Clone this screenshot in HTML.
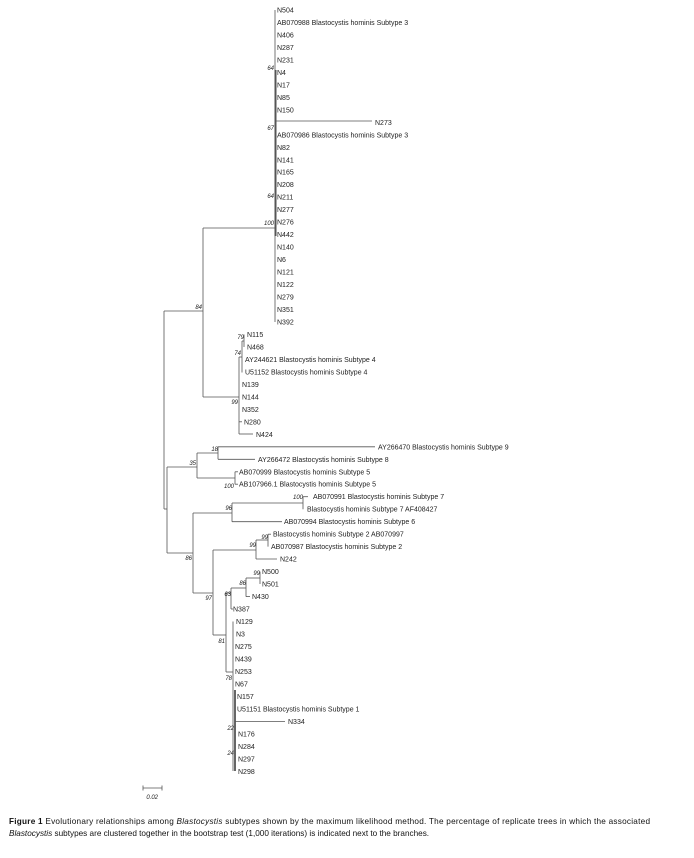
<!DOCTYPE html>
<html><head><meta charset="utf-8"><style>
html,body{margin:0;padding:0;background:#fff;}
svg{display:block;}
text{font-family:"Liberation Sans",sans-serif;fill:#222;}
.t{font-size:7px;}
.b{font-size:6px;font-style:italic;fill:#444;}
.c{font-size:8.2px;fill:#111;}
</style></head><body>
<svg width="694" height="858" viewBox="0 0 694 858" xmlns="http://www.w3.org/2000/svg">
<g stroke="#555" stroke-width="0.8" fill="none">
<!-- root -->
<line x1="164" y1="311" x2="164" y2="509"/>
<line x1="164" y1="311" x2="203" y2="311"/>
<line x1="164" y1="509" x2="167" y2="509"/>
<!-- clade 84 -->
<line x1="203" y1="228" x2="203" y2="397"/>
<line x1="203" y1="228" x2="275" y2="228"/>
<line x1="275" y1="10" x2="275" y2="322"/>
<line x1="275.5" y1="70" x2="275.5" y2="236" stroke-width="2"/>
<line x1="275" y1="121" x2="372" y2="121"/>
<line x1="203" y1="397" x2="239" y2="397"/>
<line x1="239" y1="357" x2="239" y2="434"/>
<line x1="239" y1="357" x2="242" y2="357"/>
<line x1="242" y1="341" x2="242" y2="372.5"/>
<line x1="242" y1="341" x2="244" y2="341"/>
<line x1="244" y1="334.5" x2="244" y2="347"/>
<line x1="239" y1="421.8" x2="242" y2="421.8"/>
<line x1="239" y1="434" x2="253" y2="434"/>
<!-- lower -->
<line x1="167" y1="467" x2="167" y2="553"/>
<line x1="167" y1="467" x2="197" y2="467"/>
<line x1="197" y1="453" x2="197" y2="478"/>
<line x1="197" y1="453" x2="218" y2="453"/>
<line x1="218" y1="446.8" x2="218" y2="459.3"/>
<line x1="218" y1="446.8" x2="375" y2="446.8"/>
<line x1="218" y1="459.3" x2="255" y2="459.3"/>
<line x1="197" y1="478" x2="235" y2="478"/>
<line x1="235" y1="471.8" x2="235" y2="484.2"/>
<line x1="235" y1="471.8" x2="238" y2="471.8"/>
<line x1="235" y1="484.2" x2="238" y2="484.2"/>
<line x1="167" y1="553" x2="193" y2="553"/>
<line x1="193" y1="513" x2="193" y2="593"/>
<line x1="193" y1="513" x2="232" y2="513"/>
<line x1="232" y1="503" x2="232" y2="521.7"/>
<line x1="232" y1="503" x2="303" y2="503"/>
<line x1="303" y1="496.7" x2="303" y2="509.2"/>
<line x1="303" y1="496.7" x2="308" y2="496.7"/>
<line x1="232" y1="521.7" x2="282" y2="521.7"/>
<line x1="193" y1="593" x2="213" y2="593"/>
<line x1="213" y1="550" x2="213" y2="635"/>
<line x1="213" y1="550" x2="256" y2="550"/>
<line x1="256" y1="540" x2="256" y2="559"/>
<line x1="256" y1="540" x2="268" y2="540"/>
<line x1="268" y1="534.2" x2="268" y2="546.6"/>
<line x1="268" y1="534.2" x2="271" y2="534.2"/>
<line x1="256" y1="559" x2="277" y2="559"/>
<line x1="213" y1="635" x2="226" y2="635"/>
<line x1="226" y1="593" x2="226" y2="672"/>
<line x1="226" y1="593" x2="231" y2="593"/>
<line x1="231" y1="588" x2="231" y2="609"/>
<line x1="231" y1="588" x2="246" y2="588"/>
<line x1="246" y1="578" x2="246" y2="596.6"/>
<line x1="246" y1="578" x2="260" y2="578"/>
<line x1="260" y1="571.6" x2="260" y2="584"/>
<line x1="246" y1="596.6" x2="250" y2="596.6"/>
<line x1="231" y1="609" x2="233" y2="609"/>
<line x1="226" y1="672" x2="233" y2="672"/>
<line x1="233" y1="621.5" x2="233" y2="771"/>
<line x1="235" y1="690" x2="235" y2="771" stroke-width="1.8"/>
<line x1="235" y1="721.4" x2="285" y2="721.4"/>
<!-- scale -->
<line x1="143" y1="788" x2="162" y2="788"/>
<line x1="143" y1="785.5" x2="143" y2="790.5"/>
<line x1="162" y1="785.5" x2="162" y2="790.5"/>
</g>
<g class="t">
<text x="277" y="12.5">N504</text>
<text x="277" y="25">AB070988 Blastocystis hominis Subtype 3</text>
<text x="277" y="37.5">N406</text>
<text x="277" y="49.9">N287</text>
<text x="277" y="62.4">N231</text>
<text x="277" y="74.9">N4</text>
<text x="277" y="87.4">N17</text>
<text x="277" y="99.9">N85</text>
<text x="277" y="112.3">N150</text>
<text x="375" y="124.8">N273</text>
<text x="277" y="137.3">AB070986 Blastocystis hominis Subtype 3</text>
<text x="277" y="149.8">N82</text>
<text x="277" y="162.3">N141</text>
<text x="277" y="174.7">N165</text>
<text x="277" y="187.2">N208</text>
<text x="277" y="199.7">N211</text>
<text x="277" y="212.2">N277</text>
<text x="277" y="224.7">N276</text>
<text x="277" y="237.1">N442</text>
<text x="277" y="249.6">N140</text>
<text x="277" y="262.1">N6</text>
<text x="277" y="274.6">N121</text>
<text x="277" y="287.1">N122</text>
<text x="277" y="299.5">N279</text>
<text x="277" y="312">N351</text>
<text x="277" y="324.5">N392</text>
<text x="247" y="337">N115</text>
<text x="247" y="349.5">N468</text>
<text x="245" y="361.9">AY244621 Blastocystis hominis Subtype 4</text>
<text x="245" y="374.4">U51152 Blastocystis hominis Subtype 4</text>
<text x="242" y="386.9">N139</text>
<text x="242" y="399.4">N144</text>
<text x="242" y="411.9">N352</text>
<text x="244" y="424.3">N280</text>
<text x="256" y="436.8">N424</text>
<text x="378" y="449.3">AY266470 Blastocystis hominis Subtype 9</text>
<text x="258" y="461.8">AY266472 Blastocystis hominis Subtype 8</text>
<text x="239" y="474.3">AB070999 Blastocystis hominis Subtype 5</text>
<text x="239" y="486.7">AB107966.1 Blastocystis hominis Subtype 5</text>
<text x="313" y="499.2">AB070991 Blastocystis hominis Subtype 7</text>
<text x="307" y="511.7">Blastocystis hominis Subtype 7 AF408427</text>
<text x="284" y="524.2">AB070994 Blastocystis hominis Subtype 6</text>
<text x="273" y="536.7">Blastocystis hominis Subtype 2 AB070997</text>
<text x="271" y="549.1">AB070987 Blastocystis hominis Subtype 2</text>
<text x="280" y="561.6">N242</text>
<text x="262" y="574.1">N500</text>
<text x="262" y="586.6">N501</text>
<text x="252" y="599.1">N430</text>
<text x="233" y="611.5">N387</text>
<text x="236" y="624">N129</text>
<text x="236" y="636.5">N3</text>
<text x="235" y="649">N275</text>
<text x="235" y="661.5">N439</text>
<text x="235" y="673.9">N253</text>
<text x="235" y="686.4">N67</text>
<text x="237" y="698.9">N157</text>
<text x="237" y="711.4">U51151 Blastocystis hominis Subtype 1</text>
<text x="288" y="723.9">N334</text>
<text x="238" y="736.3">N176</text>
<text x="238" y="748.8">N284</text>
<text x="238" y="761.3">N297</text>
<text x="238" y="773.8">N298</text>
</g>
<g class="b" text-anchor="end">
<text x="202" y="309">84</text>
<text x="274" y="225">100</text>
<text x="274" y="70">64</text>
<text x="274" y="130">67</text>
<text x="274" y="198">64</text>
<text x="244" y="339">79</text>
<text x="241" y="355">74</text>
<text x="238" y="404">99</text>
<text x="218" y="451">18</text>
<text x="196" y="465">35</text>
<text x="234" y="488">100</text>
<text x="232" y="510">96</text>
<text x="303" y="499">100</text>
<text x="268" y="539">99</text>
<text x="256" y="547">99</text>
<text x="192" y="560">86</text>
<text x="212" y="600">97</text>
<text x="231" y="596">63</text>
<text x="246" y="585">86</text>
<text x="260" y="575">99</text>
<text x="225" y="643">81</text>
<text x="232" y="680">78</text>
<text x="234" y="730">22</text>
<text x="234" y="755">24</text>
<text x="158" y="799">0.02</text>
</g>
<text class="c" x="9" y="824" textLength="641" lengthAdjust="spacing"><tspan font-weight="bold">Figure 1</tspan> Evolutionary relationships among <tspan font-style="italic">Blastocystis</tspan> subtypes shown by the maximum likelihood method. The percentage of replicate trees in which the associated</text>
<text class="c" x="9" y="836"><tspan font-style="italic">Blastocystis</tspan> subtypes are clustered together in the bootstrap test (1,000 iterations) is indicated next to the branches.</text>
</svg>
</body></html>
